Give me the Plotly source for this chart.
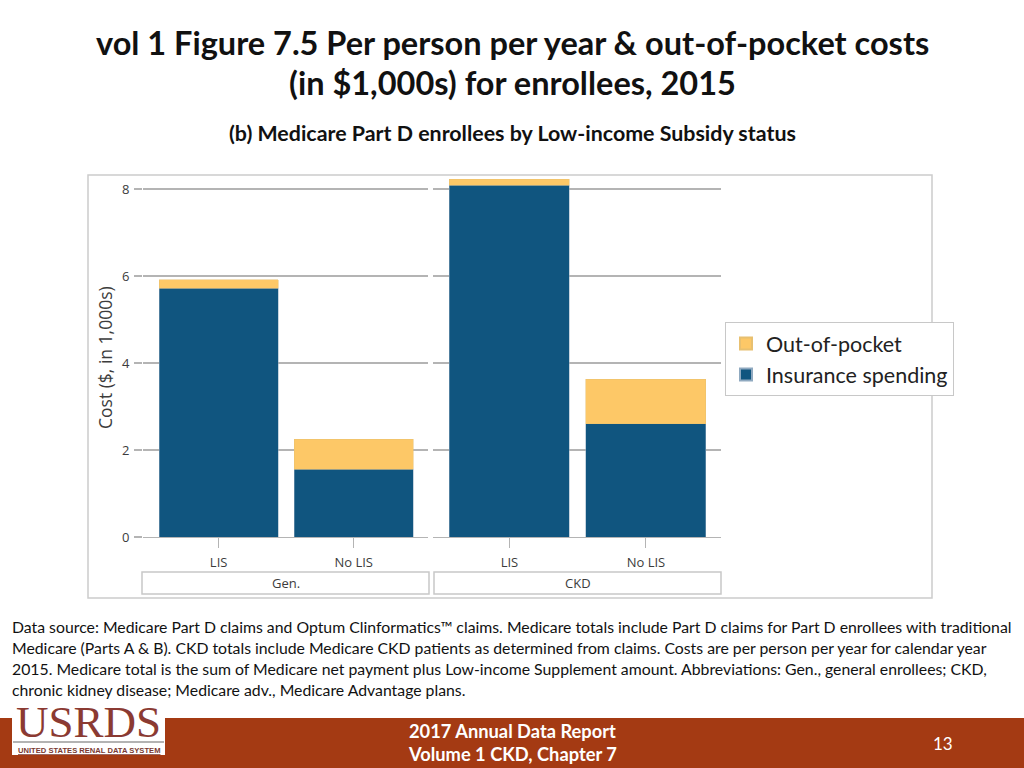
import plotly.graph_objects as go
from plotly.subplots import make_subplots

# ---- data ----
groups = ["Gen.", "CKD"]
categories = ["LIS", "No LIS"]
insurance_gen = [5.72, 1.56]
oop_gen = [0.19, 0.69]
insurance_ckd = [8.09, 2.60]
oop_ckd = [0.14, 1.03]
y_ticks = [0, 2, 4, 6, 8]

INS_COLOR = "#10557F"
OOP_COLOR = "#FDC867"
GRID = "#B4B4B4"
TXT = "#3C3C3C"
FONT = "Open Sans"
TFONT = "Lato"

W, H = 1024, 768
def px(x):
    return x / W
def py(y):
    return 1 - y / H

fig = make_subplots(rows=1, cols=2)

fig.add_trace(go.Bar(x=categories, y=insurance_gen, name="Insurance spending",
                     marker=dict(color=INS_COLOR, line=dict(color="#8FA9C0", width=0.5)),
                     width=0.88, legendgroup="ins", showlegend=True), row=1, col=1)
fig.add_trace(go.Bar(x=categories, y=oop_gen, name="Out-of-pocket",
                     marker=dict(color=OOP_COLOR, line=dict(color="#E8C070", width=0.5)),
                     width=0.88, legendgroup="oop", showlegend=True), row=1, col=1)
fig.add_trace(go.Bar(x=categories, y=insurance_ckd, name="Insurance spending",
                     marker=dict(color=INS_COLOR, line=dict(color="#8FA9C0", width=0.5)),
                     width=0.88, legendgroup="ins", showlegend=False), row=1, col=2)
fig.add_trace(go.Bar(x=categories, y=oop_ckd, name="Out-of-pocket",
                     marker=dict(color=OOP_COLOR, line=dict(color="#E8C070", width=0.5)),
                     width=0.88, legendgroup="oop", showlegend=False), row=1, col=2)

ydom = [py(537), py(176)]
yrange = [0, (537 - 176) / 43.5]

common_x = dict(type="category", range=[-0.56, 1.55], showline=True, linecolor=GRID,
                linewidth=1, ticks="outside", ticklen=10, tickcolor=GRID,
                ticklabelstandoff=3,
                tickfont=dict(family=FONT, size=13, color=TXT), showgrid=False,
                zeroline=False, fixedrange=True)
fig.update_layout(
    xaxis=dict(domain=[px(143), px(428)], **common_x),
    xaxis2=dict(domain=[px(433), px(721)], **common_x),
    yaxis=dict(domain=ydom, range=yrange, tickvals=y_ticks, showgrid=True,
               gridcolor=GRID, gridwidth=1.5, zeroline=False, ticks="outside",
               ticklen=8, tickcolor=GRID, tickwidth=1.5, ticklabelstandoff=2,
               tickfont=dict(family=FONT, size=13, color=TXT)),
    yaxis2=dict(domain=ydom, range=yrange, tickvals=y_ticks, showgrid=True,
                gridcolor=GRID, gridwidth=1.5, zeroline=False, showticklabels=False),
)

fig.update_layout(
    autosize=True, barmode="stack",
    margin=dict(l=0, r=0, t=0, b=0, autoexpand=False),
    paper_bgcolor="white", plot_bgcolor="white",
    legend=dict(x=px(725), y=py(322), xanchor="left", yanchor="top",
                traceorder="reversed", bordercolor="#C8C8C8", borderwidth=1,
                bgcolor="white", font=dict(family=TFONT, size=21.5, color="#222"),
                itemsizing="constant", itemwidth=30, tracegroupgap=0),
    showlegend=True,
)

shapes = []
# outer chart frame
shapes.append(dict(type="rect", xref="paper", yref="paper", x0=px(88), x1=px(932),
                   y0=py(598), y1=py(175), line=dict(color="#CCCCCC", width=1.5),
                   fillcolor="rgba(0,0,0,0)", layer="below"))
# facet boxes
for x0, x1 in [(142, 429), (434, 721)]:
    shapes.append(dict(type="rect", xref="paper", yref="paper", x0=px(x0), x1=px(x1),
                       y0=py(594), y1=py(572), line=dict(color="#C8C8C8", width=1.5),
                       fillcolor="white"))
# footer band
shapes.append(dict(type="rect", xref="paper", yref="paper", x0=0, x1=1,
                   y0=0, y1=py(718), line=dict(width=0), fillcolor="#A43A13"))
# logo box
shapes.append(dict(type="rect", xref="paper", yref="paper", x0=px(12), x1=px(165),
                   y0=py(755), y1=py(703), line=dict(width=0), fillcolor="white"))
shapes.append(dict(type="line", xref="paper", yref="paper", x0=px(13), x1=px(164),
                   y0=py(742), y1=py(742), line=dict(color="#9A9A9A", width=1.5)))
fig.update_layout(shapes=shapes)

ann = []
def add_text(text, x, y, size, family=TFONT, color="#111", xanchor="center",
             yanchor="middle", angle=0, align="center"):
    ann.append(dict(text=text, x=px(x), y=py(y), xref="paper", yref="paper",
                    showarrow=False, xanchor=xanchor, yanchor=yanchor,
                    textangle=angle, align=align,
                    font=dict(family=family, size=size, color=color)))

add_text("<b>vol 1 Figure 7.5 Per person per year &amp; out-of-pocket costs</b>", 512, 42, 32.5)
add_text("<b>(in $1,000s) for enrollees, 2015</b>", 512, 82, 32.5)
add_text("<b>(b) Medicare Part D enrollees by Low-income Subsidy status</b>", 512, 133, 21.4)
add_text("Cost ($, in 1,000s)", 105, 358, 17.5, family=FONT, color=TXT, angle=-90)
for name, xc in zip(groups, [285.5, 577.5]):
    add_text(name, xc, 583, 13, family=FONT, color=TXT)

src_lines = [
    "Data source: Medicare Part D claims and Optum Clinformatics™ claims. Medicare totals include Part D claims for Part D enrollees with traditional",
    "Medicare (Parts A &amp; B). CKD totals include Medicare CKD patients as determined from claims. Costs are per person per year for calendar year",
    "2015. Medicare total is the sum of Medicare net payment plus Low-income Supplement amount. Abbreviations: Gen., general enrollees; CKD,",
    "chronic kidney disease; Medicare adv., Medicare Advantage plans.",
]
for i, line in enumerate(src_lines):
    add_text(line, 10, 626 + 21 * i, 15.8, xanchor="left", color="#111")

add_text("<b>2017 Annual Data Report</b>", 512, 731, 18.3, color="white")
add_text("<b>Volume 1 CKD, Chapter 7</b>", 512, 754, 18.3, color="white")
add_text("13", 943, 743, 17, color="white")

add_text("USRDS", 88.5, 722, 45, family="Liberation Serif", color="#8B3A32")
add_text("<b><u>UNITED STATES RENAL DATA SYSTEM</u></b>", 88.5, 750, 7.6,
         family="Liberation Sans Narrow, Liberation Sans", color="#7A3A32")

fig.update_layout(annotations=ann)

post = ("document.documentElement.style.margin='0';document.body.style.margin='0';"
        "document.documentElement.style.overflow='hidden';document.body.style.overflow='hidden';"
        "var gd=document.getElementById('{plot_id}');gd.style.position='fixed';"
        "gd.style.left='0px';gd.style.top='0px';")
fig.write_html("out.html", config={"displayModeBar": False, "responsive": True},
               default_width="100vw", default_height="100vh", post_script=post)
